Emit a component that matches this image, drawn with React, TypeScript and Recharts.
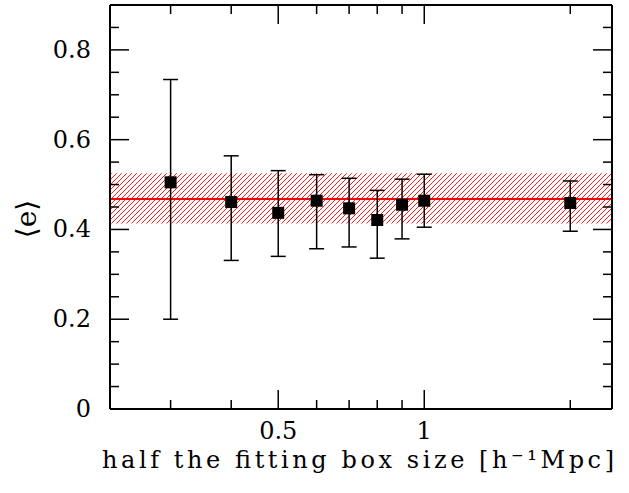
import { ScatterChart, Scatter, XAxis, YAxis, ErrorBar, ReferenceArea, ReferenceLine } from "recharts"

// box half-size [h^-1 Mpc]
const boxSizes = [0.3, 0.4, 0.5, 0.6, 0.7, 0.8, 0.9, 1.0, 2.0]
// mean ellipticity <e> and its error range
const meanE = [0.505, 0.461, 0.437, 0.464, 0.447, 0.421, 0.455, 0.464, 0.459]
const lowE = [0.2, 0.331, 0.34, 0.357, 0.361, 0.336, 0.379, 0.405, 0.396]
const highE = [0.734, 0.564, 0.531, 0.522, 0.514, 0.487, 0.512, 0.523, 0.508]

// overall mean and its spread (red band)
const fitMean = 0.468
const fitLow = 0.413
const fitHigh = 0.525

const xTicks = [0.3, 0.4, 0.5, 0.6, 0.7, 0.8, 0.9, 1, 2]
const xLabeled = [0.5, 1]
const yTicks = [0, 0.05, 0.1, 0.15, 0.2, 0.25, 0.3, 0.35, 0.4, 0.45, 0.5, 0.55, 0.6, 0.65, 0.7, 0.75, 0.8, 0.85]
const yLabeled = [0, 0.2, 0.4, 0.6, 0.8]
const yLabelText = ["0", "0.2", "0.4", "0.6", "0.8"]

const xTitle = "half the fitting box size [h\u207B\u00B9Mpc]"
const yTitle = "\u27E8e\u27E9"

const FONT = "DejaVu Serif"
const MAJOR = 19
const MINOR = 9

const points = boxSizes.map((x, i) => ({
  x,
  e: meanE[i],
  err: [meanE[i] - lowE[i], highE[i] - meanE[i]],
}))

const isY = (v: number) => yLabeled.findIndex((m) => Math.abs(m - v) < 1e-6)

const BottomTick = (props: any) => {
  const { x, y, payload } = props
  const major = xLabeled.includes(payload.value)
  return (
    <g>
      <line x1={x} y1={y} x2={x} y2={y - (major ? MAJOR : MINOR)} stroke="#000" strokeWidth={1.5} />
      {major && (
        <text x={x} y={y + 22} textAnchor="middle" dominantBaseline="central" fontFamily={FONT} fontSize={24} fill="#000">
          {String(payload.value)}
        </text>
      )}
    </g>
  )
}

const TopTick = (props: any) => {
  const { x, y, payload } = props
  const major = xLabeled.includes(payload.value)
  return <line x1={x} y1={y} x2={x} y2={y + (major ? MAJOR : MINOR)} stroke="#000" strokeWidth={1.5} />
}

const LeftTick = (props: any) => {
  const { x, y, payload } = props
  const idx = isY(payload.value)
  return (
    <g>
      <line x1={x} y1={y} x2={x + (idx >= 0 ? MAJOR : MINOR)} y2={y} stroke="#000" strokeWidth={1.5} />
      {idx >= 0 && (
        <text x={x - 19} y={y} textAnchor="end" dominantBaseline="central" fontFamily={FONT} fontSize={24} fill="#000">
          {yLabelText[idx]}
        </text>
      )}
    </g>
  )
}

const RightTick = (props: any) => {
  const { x, y, payload } = props
  const idx = isY(payload.value)
  return <line x1={x} y1={y} x2={x - (idx >= 0 ? MAJOR : MINOR)} y2={y} stroke="#000" strokeWidth={1.5} />
}

const SquareDot = (props: any) => {
  const { cx, cy } = props
  return <rect x={cx - 6} y={cy - 6} width={12} height={12} fill="#000" />
}

const NoDot = () => <g />

export default function App() {
  return (
    <div style={{ position: "absolute", left: 0, top: 0, width: 629, height: 493, background: "#fff" }}>
      <svg width={0} height={0} style={{ position: "absolute" }}>
        <defs>
          <pattern id="hatch" patternUnits="userSpaceOnUse" width={5} height={5}>
            <path d="M0,5 L5,0 M-1,1 L1,-1 M4,6 L6,4" stroke="#ff1a1a" strokeWidth={1} />
          </pattern>
        </defs>
      </svg>
      <ScatterChart width={629} height={493} margin={{ top: 4, right: 16, bottom: 0, left: 0 }}>
        <XAxis
          xAxisId="b"
          dataKey="x"
          type="number"
          scale="log"
          domain={[0.225, 2.438]}
          allowDataOverflow
          ticks={xTicks}
          interval={0}
          height={84}
          tickSize={0}
          tickMargin={0}
          tickLine={false}
          tick={<BottomTick />}
          axisLine={{ stroke: "#000", strokeWidth: 2 }}
        />
        <XAxis
          xAxisId="t"
          dataKey="x"
          orientation="top"
          type="number"
          scale="log"
          domain={[0.225, 2.438]}
          allowDataOverflow
          ticks={xTicks}
          interval={0}
          height={1}
          tickSize={0}
          tickMargin={0}
          tickLine={false}
          tick={<TopTick />}
          axisLine={{ stroke: "#000", strokeWidth: 2 }}
        />
        <YAxis
          yAxisId="l"
          dataKey="e"
          type="number"
          domain={[0, 0.9]}
          allowDataOverflow
          ticks={yTicks}
          interval={0}
          width={110}
          tickSize={0}
          tickMargin={0}
          tickLine={false}
          tick={<LeftTick />}
          axisLine={{ stroke: "#000", strokeWidth: 2 }}
        />
        <YAxis
          yAxisId="r"
          dataKey="e"
          orientation="right"
          type="number"
          domain={[0, 0.9]}
          allowDataOverflow
          ticks={yTicks}
          interval={0}
          width={1}
          tickSize={0}
          tickMargin={0}
          tickLine={false}
          tick={<RightTick />}
          axisLine={{ stroke: "#000", strokeWidth: 2 }}
        />
        <ReferenceArea xAxisId="b" yAxisId="l" y1={fitLow} y2={fitHigh} fill="url(#hatch)" fillOpacity={1} stroke="none" />
        <ReferenceLine xAxisId="b" yAxisId="l" y={fitMean} stroke="#ff0000" strokeWidth={2} />
        {/* invisible series so the mirrored top/right axes get drawn */}
        <Scatter xAxisId="t" yAxisId="r" data={points} dataKey="e" shape={<NoDot />} isAnimationActive={false} />
        <Scatter xAxisId="b" yAxisId="l" data={points} dataKey="e" shape={<SquareDot />} isAnimationActive={false}>
          <ErrorBar dataKey="err" direction="y" width={7.5} stroke="#000" strokeWidth={1.5} isAnimationActive={false} />
        </Scatter>
      </ScatterChart>
      <svg width={629} height={493} style={{ position: "absolute", left: 0, top: 0, pointerEvents: "none" }}>
        <text x={358} y={468} textAnchor="middle" textLength={512} lengthAdjust="spacing" fontFamily={FONT} fontSize={24} fill="#000">
          {xTitle}
        </text>
        <text x={26} y={219} transform="rotate(-90, 26, 219)" textAnchor="middle" dominantBaseline="central" fontFamily={FONT} fontSize={28} fill="#000">
          {yTitle}
        </text>
      </svg>
    </div>
  )
}
